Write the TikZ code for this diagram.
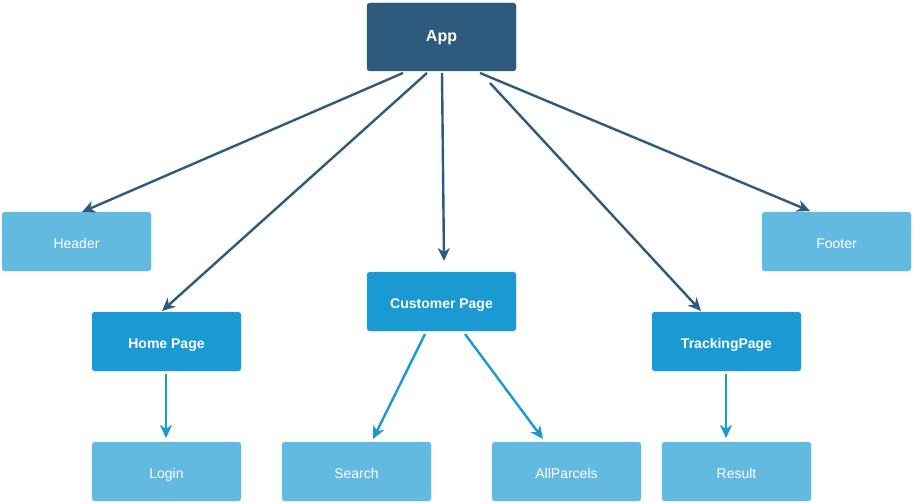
\documentclass[tikz,border=0pt]{standalone}
\usepackage{fontspec}
\setmainfont{Liberation Sans}
\usetikzlibrary{arrows.meta}
\definecolor{cdark}{HTML}{2E5B7D}
\definecolor{cmid}{HTML}{1A99D3}
\definecolor{clight}{HTML}{62BAE1}
\tikzset{
  box/.style={rounded corners=3pt, minimum width=149pt, minimum height=59pt, inner sep=0pt, text=white, text height=13pt, text depth=0pt, font=\fontsize{14}{16}\selectfont},
  topbox/.style={box, fill=cdark, draw=cdark!85!black, minimum height=68pt, text height=10pt, font=\bfseries\fontsize{16}{18}\selectfont},
  midbox/.style={box, fill=cmid, draw=cmid!90!white, font=\bfseries\fontsize{14}{16}\selectfont},
  leafbox/.style={box, fill=clight, draw=clight!90!white},
  darrow/.style={draw=cdark, line width=2.4pt, -{Stealth[length=13pt,width=12pt,inset=4pt]}},
  larrow/.style={draw=cmid, line width=2.4pt, -{Stealth[length=13pt,width=12pt,inset=4pt]}},
}
\begin{document}
\begin{tikzpicture}[x=1pt,y=-1pt]
\useasboundingbox (0,0) rectangle (913,503);
\node[topbox] (app) at (441.5,37) {App};
\node[leafbox] (header) at (76.5,241.5) {Header};
\node[leafbox] (footer) at (836.5,241.5) {Footer};
\node[midbox] (cust) at (441.5,301.5) {Customer Page};
\node[midbox] (home) at (166.5,341.5) {Home Page};
\node[midbox] (track) at (726.5,341.5) {TrackingPage};
\node[leafbox] (login) at (166.5,471.5) {Login};
\node[leafbox] (search) at (356.5,471.5) {Search};
\node[leafbox] (allp) at (566.5,471.5) {AllParcels};
\node[leafbox] (result) at (736.5,471.5) {Result};
% start/end coordinates
\coordinate (a1) at (403,73);
\coordinate (a2) at (427,73);
\coordinate (a3) at (442,73);
\coordinate (a4) at (490,83);
\coordinate (a5) at (480,73);
\coordinate (e1) at (82,212);
\coordinate (e2) at (162,311);
\coordinate (e3) at (444,261);
\coordinate (e4) at (701,311);
\coordinate (e5) at (810,211);
\coordinate (c1) at (425,334);
\coordinate (c2) at (465,334);
\coordinate (f1) at (373,439);
\coordinate (f2) at (543,439);
\coordinate (h1) at (166,374);
\coordinate (g1) at (166,438);
\coordinate (t1) at (726,374);
\coordinate (r1) at (726,438);
\draw[darrow] (a1) -- (e1);
\draw[darrow] (a2) -- (e2);
\draw[darrow] (a3) -- (e3);
\draw[darrow] (a4) -- (e4);
\draw[darrow] (a5) -- (e5);
\draw[larrow] (c1) -- (f1);
\draw[larrow] (c2) -- (f2);
\draw[larrow] (h1) -- (g1);
\draw[larrow] (t1) -- (r1);
\end{tikzpicture}
\end{document}
